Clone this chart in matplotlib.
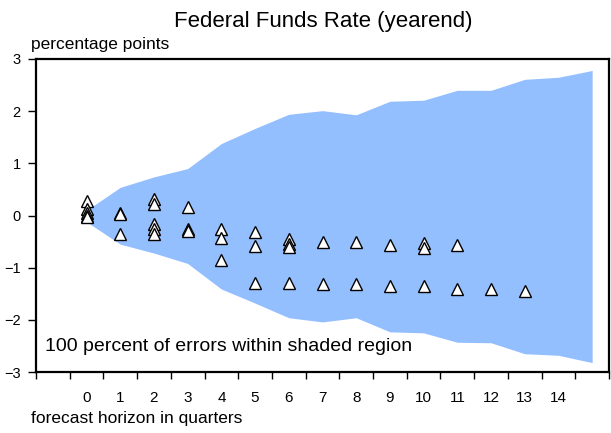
import numpy as np
import matplotlib
matplotlib.use("Agg")
import matplotlib.pyplot as plt

plt.rcParams['font.family'] = ['Liberation Sans', 'DejaVu Sans']

# shaded band (max abs error by horizon)
horizon = list(range(16))
upper = [0.10, 0.54, 0.74, 0.90, 1.38, 1.67, 1.94, 2.01, 1.93, 2.19, 2.21, 2.40, 2.40, 2.61, 2.65, 2.78]
lower = [-0.12, -0.55, -0.72, -0.92, -1.41, -1.68, -1.96, -2.04, -1.96, -2.23, -2.25, -2.43, -2.44, -2.65, -2.68, -2.82]

# individual forecast errors
err_h = [0, 0, 0, 0, 0,
         1, 1, 1,
         2, 2, 2, 2, 2,
         3, 3, 3,
         4, 4, 4,
         5, 5, 5,
         6, 6, 6, 6,
         7, 7,
         8, 8,
         9, 9,
         10, 10, 10,
         11, 11,
         12,
         13]
err_v = [0.27, 0.12, 0.05, 0.0, -0.03,
         0.05, 0.03, -0.35,
         0.32, 0.22, -0.17, -0.26, -0.35,
         0.17, -0.25, -0.30,
         -0.26, -0.43, -0.86,
         -0.31, -0.59, -1.30,
         -0.45, -0.55, -0.60, -1.30,
         -0.50, -1.31,
         -0.51, -1.31,
         -0.56, -1.36,
         -0.52, -0.62, -1.36,
         -0.56, -1.40,
         -1.41,
         -1.45]

xlabels = [str(i) for i in range(15)]

fig = plt.figure(figsize=(6.11, 4.33), dpi=100)
ax = fig.add_axes([36/611, 61/433, 573/611, 313/433])

ax.fill_between(horizon, lower, upper, color='#94BFFF', linewidth=0)
ax.plot(err_h, err_v, linestyle='none', marker='^', ms=8.5, mfc='white', mec='black', mew=1.0)

ax.set_xlim(-1.5, 15.5)
ax.set_ylim(-3, 3)
ax.set_yticks([-3, -2, -1, 0, 1, 2, 3])
ax.set_xticks(np.arange(-1.5, 15.6, 1.0))
ax.set_xticklabels([])
ax.set_xticks(range(15), minor=True)
ax.set_xticklabels(xlabels, minor=True)
ax.tick_params(axis='x', which='major', direction='out', length=5, width=1)
ax.tick_params(axis='x', which='minor', length=0, pad=14, labelsize=11)
ax.tick_params(axis='y', direction='out', length=6, width=1, labelsize=10.5, pad=5)
for s in ax.spines.values():
    s.set_linewidth(1.6)

ax.text(0.016, 0.08, '100 percent of errors within shaded region', transform=ax.transAxes,
        fontsize=14, va='center', ha='left')

fig.text(323/611, 1 - 22/433, 'Federal Funds Rate (yearend)', fontsize=16, ha='center', va='center')
fig.text(31/611, 1 - 44/433, 'percentage points', fontsize=12.5, ha='left', va='center')
fig.text(31/611, 1 - 418/433, 'forecast horizon in quarters', fontsize=12.5, ha='left', va='center')

fig.savefig('out.png', dpi=100)
